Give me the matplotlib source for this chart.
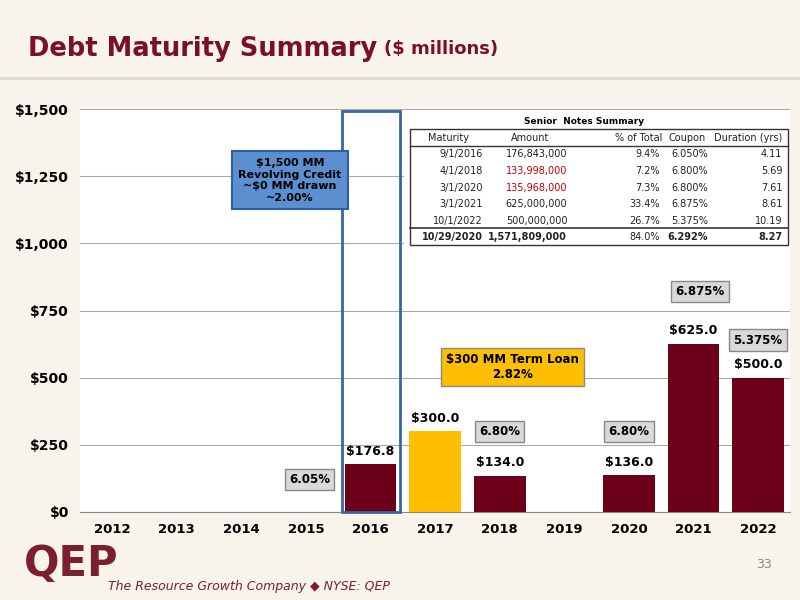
import matplotlib.pyplot as plt
from matplotlib.patches import Rectangle

years = ['2012', '2013', '2014', '2015', '2016', '2017', '2018', '2019', '2020', '2021', '2022']
amounts = [0, 0, 0, 0, 176.8, 300.0, 134.0, 0, 136.0, 625.0, 500.0]
bar_colors = ['#6d0019'] * 11
bar_colors[5] = '#fdbf00'
value_labels = {4: '$176.8', 5: '$300.0', 6: '$134.0', 8: '$136.0', 9: '$625.0', 10: '$500.0'}
coupon_text = [(3.05, 120, '6.05%'), (6.0, 300, '6.80%'), (8.0, 300, '6.80%'), (9.1, 820, '6.875%'), (10.0, 640, '5.375%')]

table_cols = ['Maturity', 'Amount', '% of Total', 'Coupon', 'Duration (yrs)']
table_rows = [
    ['9/1/2016', '176,843,000', '9.4%', '6.050%', '4.11'],
    ['4/1/2018', '133,998,000', '7.2%', '6.800%', '5.69'],
    ['3/1/2020', '135,968,000', '7.3%', '6.800%', '7.61'],
    ['3/1/2021', '625,000,000', '33.4%', '6.875%', '8.61'],
    ['10/1/2022', '500,000,000', '26.7%', '5.375%', '10.19'],
]
table_total = ['10/29/2020', '1,571,809,000', '84.0%', '6.292%', '8.27']
red_rows = [1, 2]

bg = '#f8f4ec'
fig = plt.figure(figsize=(8, 6), dpi=100, facecolor=bg)
ax = fig.add_axes([0.1, 0.147, 0.888, 0.671])
ax.set_facecolor('white')
x = range(len(years))
ax.bar(x, amounts, width=0.8, color=bar_colors, zorder=3)
ax.set_xlim(-0.5, 10.5)
ax.set_ylim(0, 1500)
ax.set_yticks([0, 250, 500, 750, 1000, 1250, 1500])
ax.set_yticklabels(['$0', '$250', '$500', '$750', '$1,000', '$1,250', '$1,500'], fontsize=10, fontweight='bold')
ax.set_xticks(list(x))
ax.set_xticklabels(years, fontsize=9.5, fontweight='bold')
ax.tick_params(length=0, pad=8)
ax.grid(axis='y', color='#aaaaaa', lw=0.8, zorder=0)
for s in ['top', 'right', 'left']:
    ax.spines[s].set_visible(False)
ax.spines['bottom'].set_color('#888888')

for i, lab in value_labels.items():
    ax.text(i, amounts[i] + 25, lab, ha='center', va='bottom', fontsize=9, fontweight='bold', zorder=4)

box = dict(boxstyle='square,pad=0.35', fc='#d9d9d9', ec='#888888', lw=1)
for cx, cy, t in coupon_text:
    ax.text(cx, cy, t, ha='center', va='center', fontsize=8.5, fontweight='bold', bbox=box, zorder=5)

ax.add_patch(Rectangle((3.55, 0), 0.9, 1492, fill=False, ec='#3a66a0', lw=2, zorder=6, clip_on=False))
ax.text(2.75, 1235, '$1,500 MM\nRevolving Credit\n~$0 MM drawn\n~2.00%', ha='center', va='center',
        fontsize=8, fontweight='bold', linespacing=1.2, zorder=6,
        bbox=dict(boxstyle='square,pad=0.6', fc='#5b8fd0', ec='#2f5f9f', lw=1.5))
ax.text(6.2, 540, '$300 MM Term Loan\n2.82%', ha='center', va='center', fontsize=8.5, fontweight='bold',
        zorder=6, bbox=dict(boxstyle='square,pad=0.45', fc='#fdbf00', ec='#888888', lw=1))

# senior notes table
fig.add_artist(Rectangle((0.505, 0.59), 0.483, 0.222, transform=fig.transFigure, fc='white', ec='none', zorder=7))
fig.text(0.73, 0.797, 'Senior  Notes Summary', ha='center', va='center', fontsize=6.5, fontweight='bold', zorder=8)
tx0, tx1 = 0.5125, 0.985
fig.add_artist(Rectangle((tx0, 0.592), tx1 - tx0, 0.193, transform=fig.transFigure, fill=False, ec='#333333', lw=1, zorder=8))
fig.add_artist(plt.Line2D([tx0, tx1], [0.757, 0.757], transform=fig.transFigure, color='#333333', lw=1, zorder=8))
fig.add_artist(plt.Line2D([tx0, tx1], [0.62, 0.62], transform=fig.transFigure, color='#333333', lw=1.2, zorder=8))
col_x = [0.604, 0.709, 0.825, 0.885, 0.978]
head_x = [0.56, 0.6625, 0.8275, 0.859, 0.978]
head_ha = ['center', 'center', 'right', 'center', 'right']
row_y = [0.743, 0.715, 0.687, 0.660, 0.632]
for j, c in enumerate(table_cols):
    fig.text(head_x[j], 0.770, c, ha=head_ha[j], va='center', fontsize=7, color='#222222', zorder=8)
for i, row in enumerate(table_rows):
    for j, v in enumerate(row):
        col = '#c00000' if (j == 1 and i in red_rows) else '#222222'
        fig.text(col_x[j], row_y[i], v, ha='right', va='center', fontsize=7, color=col, zorder=8)
for j, v in enumerate(table_total):
    fw = 'normal' if j == 2 else 'bold'
    fig.text(col_x[j], 0.605, v, ha='right', va='center', fontsize=7, fontweight=fw, color='#222222', zorder=8)

fig.text(0.035, 0.918, 'Debt Maturity Summary', fontsize=18.5, fontweight='bold', color='#7a1025', va='center')
fig.text(0.48, 0.918, '($ millions)', fontsize=13, fontweight='bold', color='#7a1025', va='center')
fig.add_artist(plt.Line2D([0, 1], [0.87, 0.87], transform=fig.transFigure, color='#ddd8cc', lw=2))
fig.text(0.03, 0.06, 'QEP', fontsize=30, fontweight='bold', color='#7a1f2b', va='center')
fig.text(0.135, 0.023, 'The Resource Growth Company \u25c6 NYSE: QEP', fontsize=9, color='#7a1f2b',
         style='italic', va='center')
fig.text(0.965, 0.053, '33', fontsize=9, color='#888888', ha='right')
fig.savefig('out.png', facecolor=bg)
